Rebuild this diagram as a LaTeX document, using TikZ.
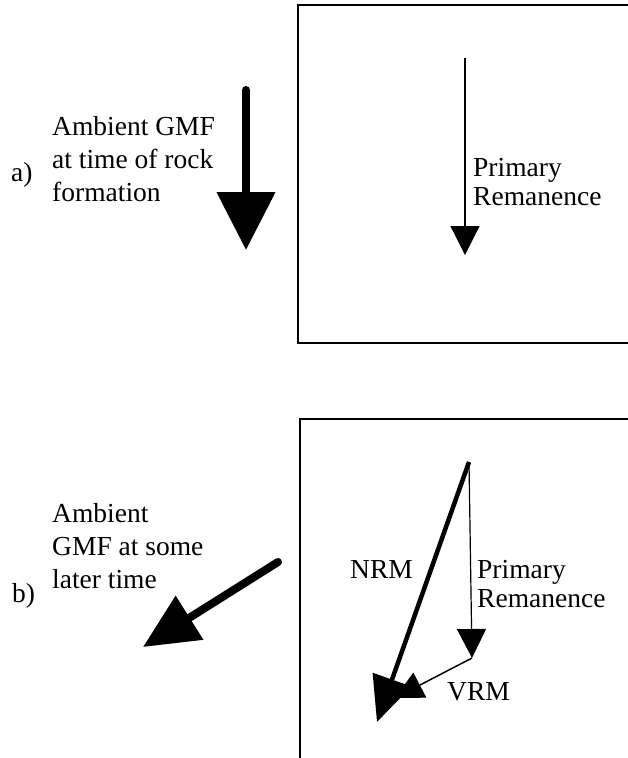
\documentclass[tikz,border=0pt]{standalone}
\usepackage{fontspec}
\setmainfont{Liberation Serif}
\usetikzlibrary{arrows.meta}
\begin{document}
\begin{tikzpicture}[x=1pt,y=-1pt,
  % multi-line nodes are anchored at the baseline of their last line
  label text/.style={inner sep=0pt, anchor=base west, align=left,
    font=\fontsize{27.5}{33}\selectfont},
  box text/.style={label text, font=\fontsize{27.5}{29}\selectfont},
  frame/.style={line width=1.4pt},
  thin vector/.style={line width=1.2pt, -{Triangle[length=29pt, width=29pt]}},
]
\useasboundingbox (0,0) rectangle (628,758);
\clip (0,0) rectangle (628,758);

% sample frames (open to the right / bottom)
\draw[frame] (700,5) -- (298,5) -- (298,343) -- (700,343);
\draw[frame] (700,419) -- (300,419) -- (300,800);

% ---------- a) ----------
\node[label text] (alab) at (11,181) {a)};
\node[label text] (atext) at (52,201) {Ambient GMF\\at time of rock\\formation};
\coordinate (agmf-tail) at (246,90);
\coordinate (agmf-tip) at (246,250);
\draw[line width=8pt, line cap=round, -{Triangle[length=58pt, width=57pt]}]
  (agmf-tail) -- (agmf-tip);

\coordinate (apr-tail) at (465,58);
\coordinate (apr-tip) at (465,255);
\draw[thin vector] (apr-tail) -- (apr-tip);
\node[box text] (aprim) at (473,205) {Primary\\Remanence};

% ---------- b) ----------
\node[label text] (blab) at (12,602) {b)};
\node[label text] (btext) at (52,588) {Ambient\\GMF at some\\later time};
\coordinate (bgmf-tail) at (278,562);
\coordinate (bgmf-tip) at (143,647);
\draw[line width=8pt, line cap=round, -{Triangle[length=55pt, width=50pt]}]
  (bgmf-tail) -- (bgmf-tip);

\coordinate (origin) at (469,462);
\coordinate (bpr-tip) at (472,658);
\coordinate (vrm-tip) at (395,698);
\coordinate (nrm-tip) at (377,722);
\draw[line width=4.5pt, -{Triangle[length=45pt, width=40pt]}] (origin) -- (nrm-tip);
\draw[thin vector] (origin) -- (bpr-tip);
\draw[line width=1.5pt, -{Triangle[length=28pt, width=28pt]}] (bpr-tip) -- (vrm-tip);

\node[label text] (nrm) at (350,578) {NRM};
\node[box text] (bprim) at (477,607) {Primary\\Remanence};
\node[label text] (vrm) at (447,700) {VRM};
\end{tikzpicture}
\end{document}
